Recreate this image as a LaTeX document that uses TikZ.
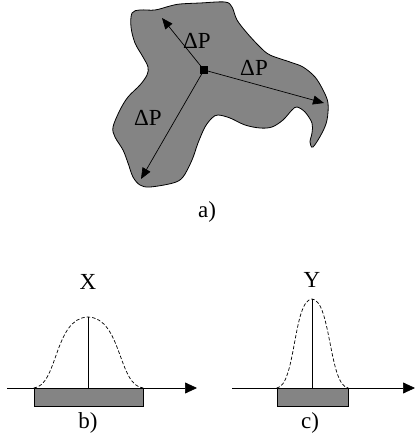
\documentclass[tikz,border=0pt]{standalone}
\usepackage{fontspec}
\setmainfont{Liberation Serif}
\usetikzlibrary{arrows.meta,positioning}
\definecolor{blobGray}{RGB}{132,132,132}

\begin{document}
\begin{tikzpicture}[x=1pt,y=-1pt,font=\fontsize{23}{26}\selectfont,
    lbl/.style={inner sep=0pt},
    dp/.style={-{Triangle[length=11pt,width=9pt]},line width=0.7pt},
    axis/.style={-{Triangle[length=12pt,width=11pt]},line width=0.7pt},
    bar/.style={draw,fill=blobGray,line width=0.7pt,minimum height=18pt,inner sep=0pt},
    bell/.style={dash pattern=on 3.5pt off 2pt,line width=0.7pt}]
  \useasboundingbox (0,0) rectangle (417,445);

  % a) region with pressure arrows
  \filldraw[fill=blobGray,line width=0.8pt] plot[smooth cycle,tension=0.55] coordinates {
    (132,13) (140,10) (155,10) (170,6) (180,4) (200,3) (225,2) (232,7) (237,20)
    (247,33) (260,47) (270,55) (290,62) (303,67) (315,77) (323,90) (328,103)
    (327,120) (322,133) (313,147) (310,142) (312,133) (312,123) (305,112)
    (297,107) (292,110) (283,120) (272,127) (260,128) (245,125) (230,118)
    (218,115) (212,118) (205,127) (198,143) (192,160) (183,177) (173,183)
    (150,187) (140,185) (133,177) (128,163) (123,150) (115,137) (113,127)
    (120,110) (128,97) (140,85) (147,75) (148,67) (143,57) (135,43) (131,27)};
  \node[fill=black,minimum size=8pt,inner sep=0pt] (ctr) at (204,70) {};
  \coordinate (tipA) at (162,18);
  \coordinate (tipB) at (324,103);
  \coordinate (tipC) at (141,179);
  \draw[dp] (ctr.center) -- (tipA);
  \draw[dp] (ctr.center) -- (tipB);
  \draw[dp] (ctr.center) -- (tipC);
  \node[lbl] (dpA) at (197,41) {ΔP};
  \node[lbl] (dpB) at (254,68) {ΔP};
  \node[lbl] (dpC) at (148,118) {ΔP};
  \node[lbl] (capA) at (207,212) {a)};

  % b) wide distribution
  \coordinate (axB0) at (7,388);
  \coordinate (axB1) at (197,388);
  \draw[axis] (axB0) -- (axB1);
  \node[bar,minimum width=109pt,anchor=north] (barB) at (88.5,388) {};
  \coordinate (topB) at (88,317);
  \draw[line width=0.7pt] (barB.north -| topB) -- (topB);
  \draw[bell] (barB.north west) .. controls (58,386) and (54,318) .. (topB)
    .. controls (122,318) and (118,386) .. (barB.north east);
  \node[lbl] (lblX) at (88,282) {X};
  \node[lbl] (capB) at (88,423) {b)};

  % c) narrow distribution
  \coordinate (axC0) at (232,388);
  \coordinate (axC1) at (415,388);
  \draw[axis] (axC0) -- (axC1);
  \node[bar,minimum width=71pt,anchor=north] (barC) at (312.5,388) {};
  \coordinate (topC) at (312,299);
  \draw[line width=0.7pt] (barC.north -| topC) -- (topC);
  \draw[bell] (barC.north west) .. controls (296,386) and (293,300) .. (topC)
    .. controls (331,300) and (329,386) .. (barC.north east);
  \node[lbl] (lblY) at (312,280) {Y};
  \node[lbl] (capC) at (310,423) {c)};
\end{tikzpicture}
\end{document}
